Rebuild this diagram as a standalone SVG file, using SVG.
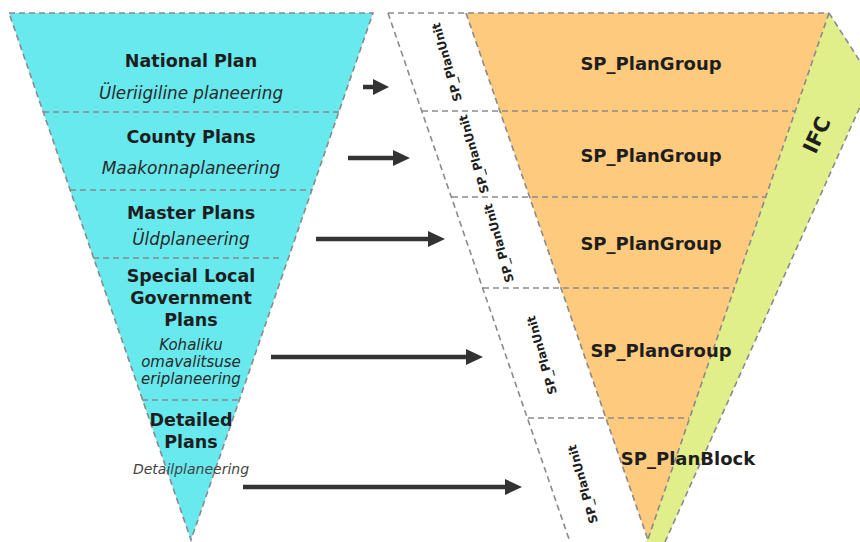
<svg xmlns="http://www.w3.org/2000/svg" width="860" height="542" viewBox="0 0 860 542">
  <defs>
    <style>
      .dash { fill: none; stroke: #8a8a8a; stroke-width: 1.6; stroke-dasharray: 6 4; }
      .arrow { stroke: #333333; stroke-width: 4.5; fill: none; }
      .head { fill: #333333; }
      .title { font-family: "DejaVu Sans", sans-serif; font-weight: 700; font-size: 17.5px; fill: #1e1e1e; text-anchor: middle; }
      .sub { font-family: "DejaVu Sans", sans-serif; font-style: italic; font-size: 16.8px; fill: #2a2a2a; text-anchor: middle; }
      .unit { font-family: "DejaVu Sans", sans-serif; font-weight: 700; font-size: 12px; fill: #1e1e1e; text-anchor: middle; }
      .grp { font-family: "DejaVu Sans", sans-serif; font-weight: 700; font-size: 18px; fill: #1e1e1e; text-anchor: middle; }
    </style>
  </defs>

  <!-- Left funnel -->
  <g id="left-funnel">
    <polygon points="9,13 373,13 191,540" fill="#67e9ee"/>
    <polygon class="dash" points="9,13 373,13 191,540"/>
  </g>
  <g id="national-plan">
    <text class="title" x="191" y="67">National Plan</text>
    <text class="sub" x="191" y="99">Üleriigiline planeering</text>
  </g>
  <line class="dash" x1="43" y1="112" x2="339" y2="112"/>
  <g id="county-plans">
    <text class="title" x="191" y="143">County Plans</text>
    <text class="sub" x="191" y="174" style="font-size:17px">Maakonnaplaneering</text>
  </g>
  <line class="dash" x1="70" y1="190" x2="312" y2="190"/>
  <g id="master-plans">
    <text class="title" x="191" y="219">Master Plans</text>
    <text class="sub" x="191" y="245">Üldplaneering</text>
  </g>
  <line class="dash" x1="93" y1="258" x2="280" y2="258"/>
  <g id="special-local-government-plans">
    <text class="title" x="191" y="282">Special Local</text>
    <text class="title" x="191" y="304">Government</text>
    <text class="title" x="191" y="326">Plans</text>
    <text class="sub" x="191" y="350" style="font-size:15px">Kohaliku</text>
    <text class="sub" x="191" y="367" style="font-size:15px">omavalitsuse</text>
    <text class="sub" x="191" y="384" style="font-size:15px">eriplaneering</text>
  </g>
  <line class="dash" x1="142" y1="400" x2="240" y2="400"/>
  <g id="detailed-plans">
    <text class="title" x="191" y="426">Detailed</text>
    <text class="title" x="191" y="448">Plans</text>
    <text class="sub" x="191" y="474" style="font-size:14px;fill:#444">Detailplaneering</text>
  </g>

  <!-- Right structure -->
  <g id="ifc">
    <polygon points="829,13 872,80 665,542 646,542" fill="#e0ef89"/>
    <polyline class="dash" points="829,13 872,80 665,542"/>
    <text x="817" y="135" transform="rotate(-65 817 135)" font-family="'DejaVu Sans', sans-serif" font-weight="700" font-size="21" fill="#1e1e1e" text-anchor="middle" dominant-baseline="central">IFC</text>
  </g>
  <g id="plan-groups">
    <polygon points="466,13 829,13 648,540" fill="#fdca7e"/>
    <line class="dash" x1="388" y1="13" x2="829" y2="13"/>
    <line class="dash" x1="466" y1="13" x2="648" y2="540"/>
    <line class="dash" x1="829" y1="13" x2="647" y2="542"/>
    <line class="dash" x1="388" y1="13" x2="570" y2="542"/>
    <line class="dash" x1="422" y1="111" x2="795" y2="111"/>
    <line class="dash" x1="452" y1="197" x2="766" y2="197"/>
    <line class="dash" x1="483" y1="288" x2="734" y2="288"/>
    <line class="dash" x1="528" y1="418" x2="689" y2="418"/>
  </g>

  <g id="unit-1"><text class="unit" x="447" y="62" transform="rotate(-106 447 62)" dominant-baseline="central">SP_PlanUnit</text></g>
  <g id="unit-2"><text class="unit" x="474" y="154" transform="rotate(-106 474 154)" dominant-baseline="central">SP_PlanUnit</text></g>
  <g id="unit-3"><text class="unit" x="499" y="243" transform="rotate(-106 499 243)" dominant-baseline="central">SP_PlanUnit</text></g>
  <g id="unit-4"><text class="unit" x="542" y="355" transform="rotate(-106 542 355)" dominant-baseline="central">SP_PlanUnit</text></g>
  <g id="unit-5"><text class="unit" x="583" y="484" transform="rotate(-106 583 484)" dominant-baseline="central">SP_PlanUnit</text></g>

  <g id="group-1"><text class="grp" x="651" y="70">SP_PlanGroup</text></g>
  <g id="group-2"><text class="grp" x="651" y="162">SP_PlanGroup</text></g>
  <g id="group-3"><text class="grp" x="651" y="250">SP_PlanGroup</text></g>
  <g id="group-4"><text class="grp" x="661" y="357">SP_PlanGroup</text></g>
  <g id="block-5"><text class="grp" x="688" y="465">SP_PlanBlock</text></g>

  <!-- Connectors -->
  <g id="connectors">
    <line class="arrow" x1="363" y1="87" x2="374" y2="87"/>
    <polygon class="head" points="373,79 389,87 373,95"/>
    <line class="arrow" x1="348" y1="158" x2="394" y2="158"/>
    <polygon class="head" points="393,150 410,158 393,166"/>
    <line class="arrow" x1="316" y1="239" x2="429" y2="239"/>
    <polygon class="head" points="428,231 445,239 428,247"/>
    <line class="arrow" x1="271" y1="357" x2="467" y2="357"/>
    <polygon class="head" points="466,349 483,357 466,365"/>
    <line class="arrow" x1="243" y1="487" x2="506" y2="487"/>
    <polygon class="head" points="505,479 522,487 505,495"/>
  </g>
</svg>
